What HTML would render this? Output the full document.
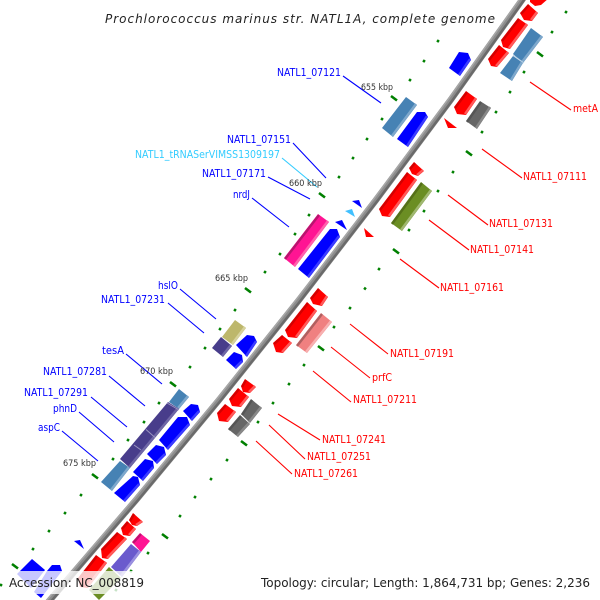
<!DOCTYPE html>
<html><head><meta charset="utf-8"><style>
html,body{margin:0;padding:0;background:#fff}
svg{display:block}
text{font-family:"DejaVu Sans","Liberation Sans",sans-serif}
.b{font-size:10.5px;fill:#00f}.r{font-size:10.5px;fill:#f00}.k{font-size:8.5px;fill:#333}
.lb{stroke:#00f;stroke-width:1.1;fill:none}.lr{stroke:#f00;stroke-width:1.1;fill:none}
.s{stroke-width:2.4;fill:none}
.t path{stroke:#008000;stroke-width:2.6;fill:none}
</style></head><body>
<svg width="600" height="600" viewBox="0 0 600 600" xmlns="http://www.w3.org/2000/svg">
<rect width="600" height="600" fill="#fff"/>
<!-- tick dots -->
<g class="t">
<path d="M437,40.300l2,1.500M423,60.300l2,1.500M409,79.300l2,1.500M381,118.300l2,1.500M366,138.300l2,1.500M352,157.300l2,1.500M338,176.300l2,1.500M308,214.300l2,1.500M294,233.300l2,1.500M279,253.300l2,1.500M264,271.300l2,1.500M234,309.300l2,1.500M219,328.300l2,1.500M204,347.300l2,1.500M189,366.300l2,1.500M158,402.300l2,1.500M143,421.300l2,1.500M127,439.300l2,1.500M112,458.300l2,1.500M80,494.300l2,1.500M64,512.300l2,1.500M48,530.300l2,1.500M32,548.300l2,1.500M0,584.300l2,1.500"/>
<path d="M565,11.300l2,1.500M551,31.300l2,1.500M523,71.300l2,1.500M509,91.300l2,1.500M495,111.300l2,1.500M481,131.300l2,1.500M452,171.300l2,1.500M437,190.300l2,1.500M423,210.300l2,1.500M408,229.300l2,1.500M378,268.300l2,1.500M364,287.800l2,1.500M349,307.300l2,1.500M333,326.300l2,1.500M303,364.300l2,1.500M288,383.300l2,1.500M272,402.300l2,1.500M257,421.300l2,1.500M226,459.300l2,1.500M210,478.300l2,1.500M194,496.300l2,1.500M179,515.300l2,1.500M147,552.300l2,1.500M130,570.300l2,1.500M115,589.300l2,1.500"/>
<path d="M391,96l6,4.500M319,193l6,4.500M245,288l6,4.500M170,382l6,4.500M92,474l6,4.500M12,564l6,4.500M537,52l6,4.500M466,151l6,4.500M393,249l6,4.500M318,346l6,4.500M241,441l6,4.500M162,534l6,4.500"/>
</g>
<!-- connectors -->
<g class="lb">
<path d="M343,76L381,103M293,143L326,178M268,177L310,199M252,198L289,227M180,289L216,319M168,303L204,333M126,354L162,384M109,376L145,406M91,397L127,427M79,412L114,442M62,431L98,461"/>
<path d="M282,158L317,187" style="stroke:#33ccff"/>
</g>
<path class="lr" d="M530,82L571,110M482,149L522,178M448,195L488,225M429,220L469,250M400,259L439,288M350,324L388,354M331,347L370,378M313,371L351,402M278,414L320,440M269,425L305,459M256,441L292,474"/>
<!-- backbone -->
<g fill="none">
<path d="M529,-10L522,0L450.600,100L376,200L299,300L219,400L136,500L41.400,610" stroke="#8c8c8c" stroke-width="6.500"/>
<path d="M529,-10L522,0L450.600,100L376,200L299,300L219,400L136,500L41.400,610" stroke="#6a6a6a" stroke-width="2.400" transform="translate(1.300,1)"/>
<path d="M529,-10L522,0L450.600,100L376,200L299,300L219,400L136,500L41.400,610" stroke="#a8a8a8" stroke-width="1.400" transform="translate(-1.900,-1.400)"/>
</g>
<!-- blue genes -->
<g fill="#00f">
<path d="M449,68L460,76L471,60L468,53L459,52Z"/>
<path d="M397,139L417,112L425,112L428,117L408,147Z"/>
<path d="M298,269L330,229L337,229L340,237L309,278Z"/>
<path d="M236,345L247,335L254,336L257,342L247,357Z"/>
<path d="M226,360L234,352L242,355L243,362L236,369Z"/>
<path d="M183,411L191,404L198,405L200,412L192,421Z"/>
<path d="M159,440L178,417L187,417L190,425L168,450Z"/>
<path d="M147,454L156,445L164,447L166,455L157,464Z"/>
<path d="M133,472L145,459L153,461L154,468L143,481Z"/>
<path d="M114,493L133,476L138,477L140,485L125,502Z"/>
<path d="M17,574L32,559L45,570L31,588Z"/>
<path d="M47,571L52,565L60,565L62,571L41,598L34,592Z"/>
<path d="M352,201L359,200L362,208Z"/>
<path d="M335,222L342,220L347,230Z"/>
<path d="M74,541L80,540L84,549Z"/>
</g>
<path d="M345,211L352,209L355,217Z" fill="#40c0ff"/>
<g class="s" stroke="#3c3cff">
<path d="M459,75L470,59"/><path d="M407,146L427,116"/><path d="M308,277L339,236"/><path d="M246,356L256,341"/><path d="M235,368L242,361"/><path d="M191,420L199,411"/><path d="M167,449L189,424"/><path d="M156,463L165,454"/><path d="M142,480L153,467"/><path d="M124,501L139,484"/>
</g>
<!-- red genes -->
<g fill="#f00">
<path d="M530,-2L549,-2L541,5L535,6L530,2Z"/>
<path d="M520,13L528,4L538,13L532,21L524,20Z"/>
<path d="M501,40L518,18L528,25L510,49L503,47Z"/>
<path d="M488,59L499,45L509,53L497,67L491,66Z"/>
<path d="M454,107L466,91L477,99L466,115L457,114Z"/>
<path d="M409,168L414,162L424,171L418,176L412,174Z"/>
<path d="M379,209L407,172L417,180L390,217L382,216Z"/>
<path d="M310,298L318,288L328,297L322,306L313,304Z"/>
<path d="M285,330L307,302L317,311L297,338L288,337Z"/>
<path d="M273,343L282,335L292,343L283,353L276,352Z"/>
<path d="M241,386L245,379L256,387L250,393L243,392Z"/>
<path d="M229,399L238,388L249,397L241,407L232,406Z"/>
<path d="M217,413L225,404L236,412L228,422L219,421Z"/>
<path d="M129,520L133,513L143,522L137,526L132,525Z"/>
<path d="M121,528L127,521L136,529L130,536L123,535Z"/>
<path d="M101,549L117,532L127,539L108,559L102,558Z"/>
<path d="M78,578L96,555L107,563L88,588L80,587Z"/>
<path d="M444,118L457,128L448,128Z"/>
<path d="M364,228L374,237L366,237Z"/>
</g>
<g class="s" stroke="#d40000">
<path d="M521,14L529,5"/><path d="M502,41L519,19"/><path d="M489,60L500,46"/><path d="M455,108L467,92"/><path d="M410,169L415,163"/><path d="M380,210L408,173"/><path d="M311,299L319,289"/><path d="M286,331L308,303"/><path d="M274,344L283,336"/><path d="M242,387L246,380"/><path d="M230,400L239,389"/><path d="M218,414L226,405"/><path d="M130,521L134,514"/><path d="M122,529L128,522"/><path d="M102,550L118,533"/><path d="M79,579L97,556"/>
</g>
<g class="s" stroke="#ff5a5a">
<path d="M537,12L531,20"/><path d="M527,24L509,48"/><path d="M508,52L496,66"/><path d="M476,98L465,114"/><path d="M423,170L417,175"/><path d="M416,179L389,216"/><path d="M327,296L321,305"/><path d="M316,310L296,337"/><path d="M291,342L282,352"/><path d="M255,386L249,392"/><path d="M248,396L240,406"/><path d="M235,411L227,421"/><path d="M142,521L136,525"/><path d="M135,528L129,535"/><path d="M126,538L107,558"/><path d="M106,562L87,587"/>
</g>
<!-- steel blue -->
<g fill="#4682b4">
<path d="M382,128L406,97L417,105L393,137Z"/>
<path d="M513,54L531,28L543,37L523,63Z"/>
<path d="M500,73L513,56L523,63L512,81Z"/>
<path d="M169,402L179,389L189,397L179,409Z"/>
<path d="M101,482L120,461L130,468L112,491Z"/>
</g>
<g class="s" stroke="#7ea8cc"><path d="M392,136L416,104"/><path d="M522,62L542,36"/><path d="M511,80L522,62"/><path d="M178,408L188,396"/><path d="M111,490L129,467"/></g>
<path d="M513,55L524,63" stroke="#b8d0e4" stroke-width="1" fill="none"/>
<!-- slate -->
<g fill="#483d8b">
<path d="M212,348L221,337L232,346L223,357Z"/>
<path d="M120,459L168,402L179,409L130,468Z"/>
</g>
<g class="s" stroke="#6f67a6"><path d="M222,356L231,345"/><path d="M129,467L178,408"/></g>
<path d="M146,429.500L155,437.500M134,445L141,450M167,403L179,410" stroke="#9a94c0" stroke-width="1" fill="none"/>
<!-- others -->
<path d="M222,337L235,320L246,328L233,345Z" fill="#bdb76b"/><path class="s" stroke="#d6d29c" d="M232,344L245,327"/>
<path d="M391,223L421,182L432,191L402,231Z" fill="#6b8e23"/><path class="s" stroke="#a0b870" d="M401,230L431,190"/><path class="s" stroke="#557019" d="M392,224L422,183"/>
<path d="M284,258L318,214L329,222L295,267Z" fill="#ff1493"/><path class="s" stroke="#b8146e" d="M285,259L319,215"/><path class="s" stroke="#ff60ac" d="M294,266L328,221"/>
<path d="M296,345L321,313L332,322L307,353Z" fill="#f08080"/><path class="s" stroke="#b06060" d="M297,346L322,314"/><path class="s" stroke="#f8b0b0" d="M306,352L331,321"/>
<path d="M132,542L140,533L150,541L141,552Z" fill="#ff1493"/><path class="s" stroke="#c01070" d="M133,543L141,534"/>
<path d="M111,567L131,544L141,552L122,577Z" fill="#6a5acd"/><path class="s" stroke="#9a90e0" d="M121,576L140,551"/>
<path d="M89,590L109,567L121,578L99,600Z" fill="#6b8e23"/>
<g fill="#666"><path d="M466,121L480,101L491,108L477,129Z"/><path d="M241,414L251,399L262,408L250,423Z"/><path d="M228,429L240,415L250,424L238,437Z"/></g>
<g class="s" stroke="#888"><path d="M476,128L490,107"/><path d="M249,422L261,407"/><path d="M237,436L249,423"/></g>
<g class="s" stroke="#555"><path d="M467,122L481,102"/><path d="M242,415L252,400"/><path d="M229,430L241,416"/></g>
<!-- labels -->
<g>
<text class="b" x="277" y="76" textLength="64" lengthAdjust="spacingAndGlyphs">NATL1_07121</text>
<text class="b" x="227" y="143" textLength="64" lengthAdjust="spacingAndGlyphs">NATL1_07151</text>
<text x="135" y="158" font-size="10.500" fill="#33ccff" textLength="145" lengthAdjust="spacingAndGlyphs">NATL1_tRNASerVIMSS1309197</text>
<text class="b" x="202" y="177" textLength="64" lengthAdjust="spacingAndGlyphs">NATL1_07171</text>
<text class="b" x="233" y="198" textLength="17" lengthAdjust="spacingAndGlyphs">nrdJ</text>
<text class="b" x="158" y="289" textLength="20" lengthAdjust="spacingAndGlyphs">hslO</text>
<text class="b" x="101" y="303" textLength="64" lengthAdjust="spacingAndGlyphs">NATL1_07231</text>
<text class="b" x="102" y="354" textLength="22" lengthAdjust="spacingAndGlyphs">tesA</text>
<text class="b" x="43" y="375" textLength="64" lengthAdjust="spacingAndGlyphs">NATL1_07281</text>
<text class="b" x="24" y="396" textLength="64" lengthAdjust="spacingAndGlyphs">NATL1_07291</text>
<text class="b" x="53" y="412" textLength="24" lengthAdjust="spacingAndGlyphs">phnD</text>
<text class="b" x="38" y="431" textLength="22" lengthAdjust="spacingAndGlyphs">aspC</text>
<text class="r" x="573" y="112" textLength="25" lengthAdjust="spacingAndGlyphs">metA</text>
<text class="r" x="523" y="180" textLength="64" lengthAdjust="spacingAndGlyphs">NATL1_07111</text>
<text class="r" x="489" y="227" textLength="64" lengthAdjust="spacingAndGlyphs">NATL1_07131</text>
<text class="r" x="470" y="253" textLength="64" lengthAdjust="spacingAndGlyphs">NATL1_07141</text>
<text class="r" x="440" y="291" textLength="64" lengthAdjust="spacingAndGlyphs">NATL1_07161</text>
<text class="r" x="390" y="357" textLength="64" lengthAdjust="spacingAndGlyphs">NATL1_07191</text>
<text class="r" x="372" y="381" textLength="20" lengthAdjust="spacingAndGlyphs">prfC</text>
<text class="r" x="353" y="403" textLength="64" lengthAdjust="spacingAndGlyphs">NATL1_07211</text>
<text class="r" x="322" y="443" textLength="64" lengthAdjust="spacingAndGlyphs">NATL1_07241</text>
<text class="r" x="307" y="460" textLength="64" lengthAdjust="spacingAndGlyphs">NATL1_07251</text>
<text class="r" x="294" y="477" textLength="64" lengthAdjust="spacingAndGlyphs">NATL1_07261</text>
<text class="k" x="361" y="90" textLength="32" lengthAdjust="spacingAndGlyphs">655 kbp</text>
<text class="k" x="289" y="186" textLength="33" lengthAdjust="spacingAndGlyphs">660 kbp</text>
<text class="k" x="215" y="281" textLength="33" lengthAdjust="spacingAndGlyphs">665 kbp</text>
<text class="k" x="140" y="374" textLength="33" lengthAdjust="spacingAndGlyphs">670 kbp</text>
<text class="k" x="63" y="466" textLength="33" lengthAdjust="spacingAndGlyphs">675 kbp</text>
</g>
<text x="105" y="23" font-size="12" font-style="italic" fill="#222" textLength="390" lengthAdjust="spacing">Prochlorococcus marinus str. NATL1A, complete genome</text>
<rect x="8" y="571" width="139" height="23" fill="#fff" fill-opacity=".78"/>
<rect x="258" y="571" width="336" height="23" fill="#fff" fill-opacity=".78"/>
<text x="9" y="587" font-size="12" fill="#222" textLength="135" lengthAdjust="spacing">Accession: NC_008819</text>
<text x="261" y="587" font-size="12" fill="#222" textLength="329" lengthAdjust="spacing">Topology: circular; Length: 1,864,731 bp; Genes: 2,236</text>
</svg>
</body></html>
